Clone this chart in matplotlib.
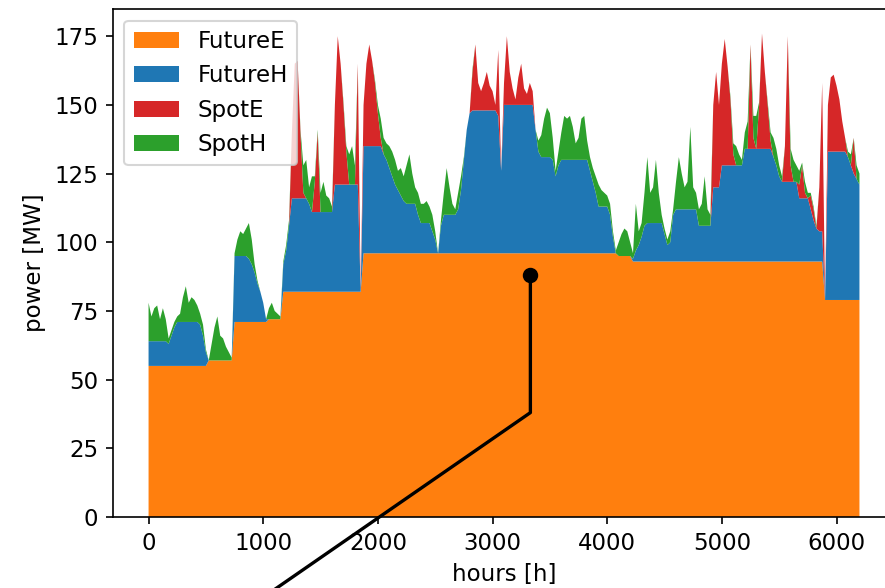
import matplotlib
matplotlib.use('Agg')
import matplotlib.pyplot as plt

plt.rcParams['font.size'] = 11

# hour axis, sampled every 25 h
hours = list(range(0, 6201, 25))

# series values (MW)
future_e = ([55] * 21 + [57] * 9 + [71] * 12 + [72] * 5 + [82] * 28
            + [96] * 89 + [95] * 5 + [93] * 67 + [79] * 13)

future_h = [
    9, 9, 9, 9, 9, 9, 9, 8, 11, 14, 16, 16, 16, 16, 16, 16, 16, 16, 15, 11,
    5, 0, 0, 0, 0, 0, 0, 0, 0, 0, 24, 24, 24, 24, 24, 23, 21, 18, 14, 11,
    7, 1, 0, 0, 0, 0, 0, 10, 15, 24, 34, 34, 34, 34, 34, 34, 32, 29, 29, 29,
    29, 29, 29, 29, 29, 39, 39, 39, 39, 39, 39, 39, 39, 39, 0, 39, 39, 39, 39, 39,
    39, 39, 36, 34, 31, 28, 25, 23, 21, 19, 18, 18, 18, 18, 14, 11, 11, 11, 11, 8,
    5, 0, 10, 14, 14, 14, 14, 14, 16, 23, 34, 45, 51, 52, 52, 52, 52, 52, 52, 52,
    52, 52, 50, 30, 54, 54, 54, 54, 54, 54, 54, 54, 54, 54, 54, 45, 37, 35, 35, 35,
    35, 34, 28, 32, 34, 34, 34, 34, 34, 34, 34, 34, 34, 34, 30, 26, 22, 17, 17, 17,
    17, 14, 6, 0, 0, 0, 0, 0, 0, 1, 4, 6, 9, 13, 14, 14, 14, 14, 14, 14,
    10, 6, 7, 17, 19, 19, 19, 19, 19, 19, 19, 19, 13, 13, 13, 13, 13, 27, 27, 27,
    35, 35, 35, 35, 35, 35, 35, 35, 41, 41, 41, 41, 41, 41, 41, 41, 41, 41, 38, 35,
    31, 29, 29, 29, 29, 29, 29, 23, 23, 23, 23, 19, 15, 12, 11, 11, 0, 54, 54, 54,
    54, 54, 54, 54, 52, 49, 46, 44, 42,
]

spot_e = [
    0, 0, 0, 0, 0, 0, 0, 0, 0, 0, 0, 0, 0, 0, 0, 0, 0, 0, 0, 0,
    0, 0, 0, 0, 0, 0, 0, 0, 0, 0, 0, 0, 0, 0, 0, 0, 0, 0, 0, 0,
    0, 0, 0, 0, 0, 0, 0, 0, 0, 0, 24, 49, 50, 24, 2, 0, 0, 0, 11, 29,
    0, 0, 0, 0, 0, 29, 54, 44, 29, 12, 0, 0, 0, 44, 0, 15, 30, 37, 31, 23,
    12, 3, 0, 0, 0, 0, 0, 0, 0, 0, 0, 0, 0, 0, 0, 0, 0, 0, 0, 0,
    0, 0, 0, 0, 0, 0, 0, 0, 0, 0, 0, 0, 0, 14, 24, 10, 7, 10, 14, 9,
    7, 2, 24, 0, 8, 25, 12, 6, 2, 10, 15, 6, 4, 8, 5, 0, 0, 0, 0, 0,
    0, 0, 0, 0, 0, 0, 0, 0, 0, 0, 0, 0, 0, 0, 0, 0, 0, 0, 0, 0,
    0, 0, 0, 0, 0, 0, 0, 0, 0, 0, 0, 0, 0, 0, 0, 0, 0, 0, 0, 0,
    0, 0, 0, 0, 0, 0, 0, 0, 0, 0, 0, 0, 0, 0, 0, 0, 0, 30, 42, 30,
    37, 46, 36, 24, 4, 0, 0, 0, 0, 0, 38, 4, 0, 16, 42, 28, 16, 3, 0, 0,
    0, 0, 13, 53, 6, 0, 0, 5, 12, 2, 0, 5, 4, 0, 16, 54, 0, 17, 27, 28,
    24, 19, 11, 5, 0, 0, 13, 0, 0,
]

spot_h = [
    14, 9, 12, 13, 8, 12, 8, 2, 2, 2, 2, 3, 9, 13, 7, 9, 8, 6, 4, 4,
    1, 0, 6, 12, 16, 9, 8, 5, 3, 1, 1, 6, 9, 8, 10, 13, 9, 3, 1, 0,
    0, 0, 4, 6, 3, 2, 1, 1, 2, 2, 0, 0, 0, 1, 10, 14, 6, 13, 2, 1,
    7, 11, 6, 5, 2, 0, 0, 0, 1, 2, 11, 14, 7, 0, 0, 0, 0, 0, 0, 1,
    3, 7, 6, 6, 8, 9, 9, 7, 10, 9, 14, 18, 11, 6, 8, 7, 7, 8, 6, 6,
    3, 0, 2, 8, 17, 10, 4, 2, 6, 5, 1, 0, 0, 1, 0, 0, 0, 0, 0, 0,
    0, 0, 0, 0, 0, 0, 0, 0, 0, 0, 0, 0, 0, 0, 0, 0, 4, 8, 14, 18,
    16, 8, 2, 5, 10, 16, 15, 16, 12, 6, 8, 15, 16, 7, 5, 5, 6, 8, 6, 5,
    4, 4, 2, 1, 5, 8, 10, 9, 5, 2, 17, 5, 5, 12, 24, 11, 13, 23, 11, 3,
    2, 2, 4, 2, 10, 19, 13, 8, 10, 30, 8, 6, 6, 8, 18, 6, 4, 0, 0, 0,
    0, 0, 0, 1, 4, 7, 4, 2, 6, 10, 0, 8, 12, 1, 0, 0, 1, 3, 7, 6,
    4, 2, 0, 0, 6, 8, 6, 5, 1, 4, 2, 1, 1, 1, 0, 0, 0, 0, 0, 0,
    0, 0, 0, 0, 2, 4, 0, 5, 4,
]

labels = ['FutureE', 'FutureH', 'SpotE', 'SpotH']
colors = ['tab:orange', 'tab:blue', 'tab:red', 'tab:green']

# pointer line drawn over the chart (goes off the bottom of the figure)
pointer_x = [3330, 3330, 800]
pointer_y = [88, 38, -35]

fig = plt.figure(figsize=(5.9, 3.92), dpi=150)
ax = fig.add_axes([0.1277, 0.1207, 0.8836, 0.8635])

ax.stackplot(hours, future_e, future_h, spot_e, spot_h,
             labels=labels, colors=colors)
ax.set_xlabel('hours [h]')
ax.set_ylabel('power [MW]')
ax.legend(loc='upper left')

# freeze the limits from the stack so the pointer does not change them
ax.set_xlim(ax.get_xlim())
ax.set_ylim(ax.get_ylim())

ax.plot(pointer_x, pointer_y, color='black', lw=1.6, clip_on=False)
ax.plot(pointer_x[:1], pointer_y[:1], 'o', color='black', ms=6.4,
        clip_on=False)

fig.savefig('out.png', dpi=150)
